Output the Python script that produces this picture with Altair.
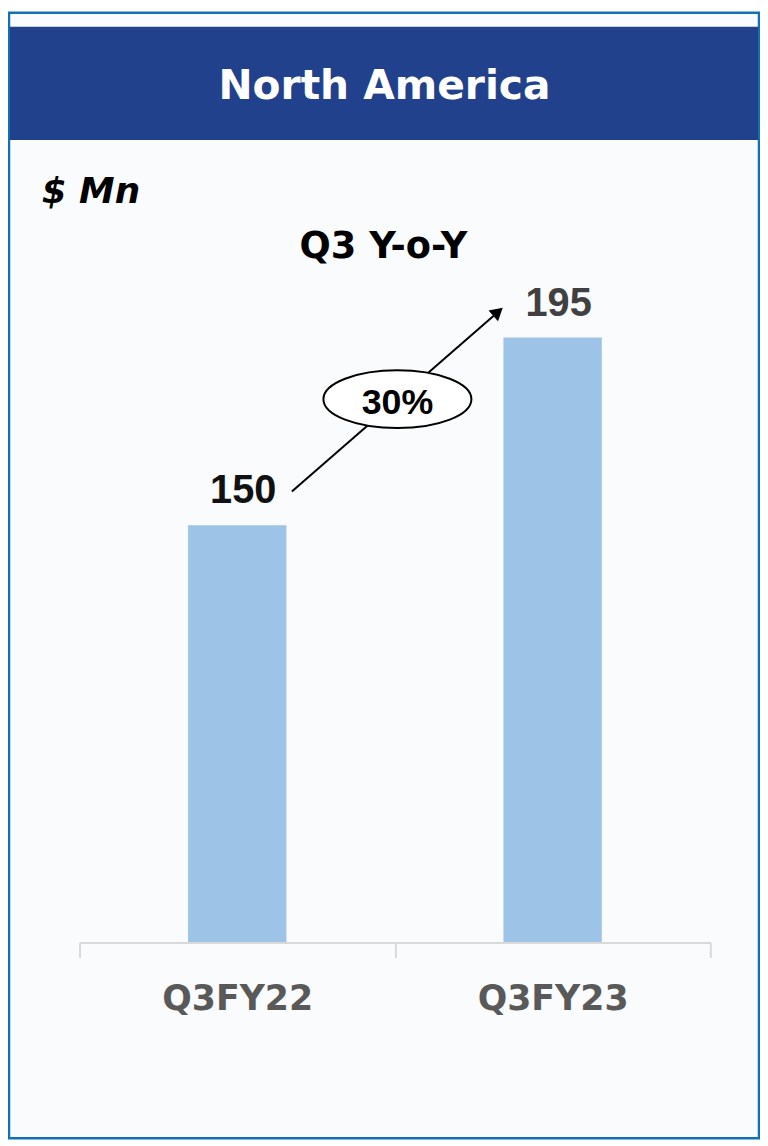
import altair as alt
import pandas as pd

# ---- data ----
categories = ["Q3FY22", "Q3FY23"]
revenue = [150, 195]
growth_label = "30%"
panel_title = "North America"
unit_label = "$ Mn"
compare_label = "Q3 Y-o-Y"

bars_df = pd.DataFrame({"cat": categories, "value": revenue})
arrow_df = pd.DataFrame({
    "c_from": [categories[0]], "c_to": [categories[1]],
    "v_from": [revenue[0]], "v_to": [revenue[1]],
    "growth": [growth_label],
})
one = pd.DataFrame({"k": [0]})

x_scale = alt.Scale(domain=categories, paddingInner=0, paddingOuter=0)
y_scale = alt.Scale(domain=[50, 200], zero=False, nice=False)

# frame and header (decoration, pixel coords relative to plot origin)
frame = alt.Chart(one).mark_rect(fill="#F9FBFD", stroke="#1170B6", strokeWidth=2.5).encode(
    x=alt.value(-71), x2=alt.value(684), y=alt.value(-306), y2=alt.value(827))
header = alt.Chart(one).mark_rect(fill="#22418C").encode(
    x=alt.value(-70), x2=alt.value(683), y=alt.value(-292), y2=alt.value(-178))

title = alt.Chart(one).mark_text(text=panel_title, font="DejaVu Sans", fontWeight="bold",
                                 fontSize=41, color="white", align="center",
                                 baseline="alphabetic").encode(
    x=alt.value(307), y=alt.value(-219))
unit = alt.Chart(one).mark_text(text=unit_label, font="DejaVu Sans", fontWeight="bold",
                                fontStyle="italic", fontSize=36, color="black",
                                align="left", baseline="alphabetic").encode(
    x=alt.value(-38), y=alt.value(-114))
compare = alt.Chart(one).mark_text(text=compare_label, font="DejaVu Sans", fontWeight="bold",
                                   fontSize=37, color="black", align="center",
                                   baseline="alphabetic").encode(
    x=alt.value(306), y=alt.value(-59))

x_axis = alt.Axis(tickBand="extent", domainColor="#D9D9D9", domainWidth=2,
                  tickColor="#D9D9D9", tickWidth=2, tickSize=15,
                  labelFont="DejaVu Sans", labelFontWeight="bold",
                  labelFontSize=35, labelColor="#595959", labelAngle=0,
                  labelBaseline="alphabetic", labelPadding=52, zindex=1)

bars = alt.Chart(bars_df).mark_bar(size=99, color="#9DC3E6", clip=True).encode(
    x=alt.X("cat:N", scale=x_scale, sort=categories, title=None, axis=x_axis),
    y=alt.Y("value:Q", scale=y_scale, axis=None),
)

values = alt.Chart(bars_df).mark_text(font="Liberation Sans", fontWeight="bold", fontSize=40,
                                      dx=6, dy=-22, baseline="alphabetic", align="center").encode(
    x=alt.X("cat:N", scale=x_scale, sort=categories, title=None),
    y=alt.Y("value:Q", scale=y_scale, axis=None),
    text=alt.Text("value:Q"),
    color=alt.Color("cat:N", scale=alt.Scale(domain=categories, range=["#111111", "#404040"]),
                    legend=None),
)

arrow_line = alt.Chart(arrow_df).mark_rule(color="black", strokeWidth=2,
                                           xOffset=55, yOffset=-34,
                                           x2Offset=-57, y2Offset=-24).encode(
    x=alt.X("c_from:N", scale=x_scale, title=None),
    x2="c_to:N",
    y=alt.Y("v_from:Q", scale=y_scale, axis=None),
    y2="v_to:Q",
)
arrow_head = alt.Chart(arrow_df).mark_point(shape="triangle-up", angle=49, filled=True,
                                            size=210, color="black", opacity=1,
                                            xOffset=-55, yOffset=-26).encode(
    x=alt.X("c_to:N", scale=x_scale, title=None),
    y=alt.Y("v_to:Q", scale=y_scale, axis=None),
)

ellipse = alt.Chart(arrow_df).mark_point(
    shape="M -1 0 A 1 0.39 0 1 1 1 0 A 1 0.39 0 1 1 -1 0 Z",
    size=149 * 149, filled=False, fill="white", fillOpacity=1, stroke="black",
    strokeWidth=2, opacity=1).encode(x=alt.value(320), y=alt.value(83))
growth = alt.Chart(arrow_df).mark_text(font="Liberation Sans", fontWeight="bold", fontSize=36,
                                       color="black", align="center",
                                       baseline="alphabetic").encode(
    x=alt.value(320), y=alt.value(98), text="growth:N")

chart = alt.layer(frame, header, title, unit, compare, bars, values,
                  arrow_line, arrow_head, ellipse, growth).properties(
    width=635, height=630,
    padding={"left": 72, "top": 307, "right": 50, "bottom": 198},
    autosize=alt.AutoSizeParams(type="none"),
).configure_view(stroke=None)

chart.save("out.html", embed_options={"renderer": "svg", "actions": False})
